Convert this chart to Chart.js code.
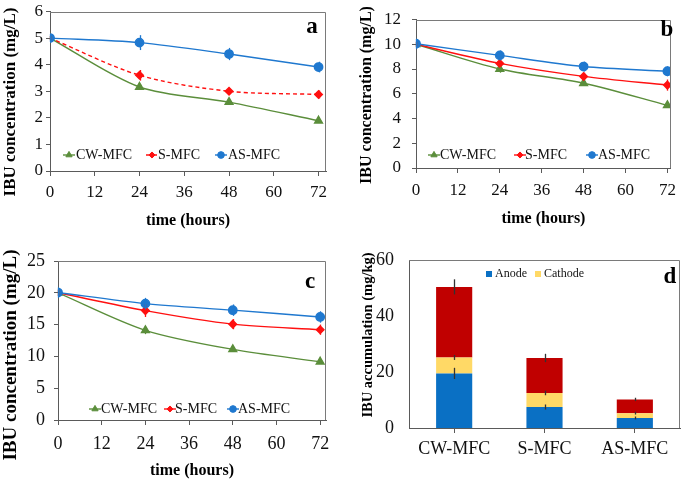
<!DOCTYPE html>
<html><head><meta charset="utf-8">
<script src="https://cdn.jsdelivr.net/npm/chart.js@4/dist/chart.umd.min.js"></script>
<style>
html,body{margin:0;padding:0;background:#fff;}
#wrap{position:relative;width:685px;height:480px;overflow:hidden;background:#fff;}
.p{position:absolute;}
canvas{display:block;}
</style></head><body>
<div id="wrap">
<div class="p" style="left:0px;top:0px"><canvas id="ca" width="340" height="240"></canvas></div>
<div class="p" style="left:340px;top:0px"><canvas id="cb" width="345" height="240"></canvas></div>
<div class="p" style="left:0px;top:240px"><canvas id="cc" width="340" height="240"></canvas></div>
<div class="p" style="left:340px;top:240px"><canvas id="cd" width="345" height="240"></canvas></div>
</div>
<script>
// ---------------- data ----------------
const hours = [0, 24, 48, 72];
const xTicks = [0, 12, 24, 36, 48, 60, 72];
const seriesNames = ['CW-MFC', 'S-MFC', 'AS-MFC'];

const aCW = [5.0, 3.16, 2.59, 1.89];
const aS  = [5.0, 3.60, 3.00, 2.88];
const aAS = [5.0, 4.83, 4.40, 3.91];
const aCWErr = [0.08, 0.10, 0.08, 0.06];
const aSErr  = [0.08, 0.20, 0.13, 0.15];
const aASErr = [0.15, 0.28, 0.23, 0.20];

const bCW = [10.0, 8.0, 6.85, 5.06];
const bS  = [10.0, 8.45, 7.40, 6.70];
const bAS = [10.04, 9.10, 8.20, 7.82];
const bCWErr = [0.2, 0.3, 0.2, 0.15];
const bSErr  = [0.2, 0.3, 0.3, 0.45];
const bASErr = [0.4, 0.4, 0.4, 0.4];

const cCW = [20.0, 14.1, 11.1, 9.16];
const cS  = [20.0, 17.2, 15.07, 14.2];
const cAS = [20.04, 18.3, 17.27, 16.2];
const cCWErr = [0.5, 0.6, 0.4, 0.3];
const cSErr  = [0.5, 1.0, 0.8, 0.8];
const cASErr = [0.8, 0.9, 0.9, 0.9];

const reactors = ['CW-MFC', 'S-MFC', 'AS-MFC'];
const anode   = [19.5, 7.5, 3.6];
const cathode = [5.7, 5.0, 1.7];
const remainder = [25.2, 12.5, 4.9];
const anodeErr   = [2.0, 0.9, 0.5];
const cathodeErr = [0.9, 0.8, 0.5];
const totalErr   = [2.7, 1.5, 0.6];

const concTitle = 'IBU concentration (mg/L)';
const accTitle = 'IBU accumulation (mg/kg)';
const timeTitle = 'time (hours)';

// ---------------- styles ----------------
const SERIF = "'Liberation Serif', 'Times New Roman', serif";
const GREEN = '#5B8E3B';
const RED = '#FF1010';
const BLUE = '#1F78CF';
const AXIS = '#5a5a5a';
const BOX = '#7a7a7a';

// ---------------- plugins ----------------
const errorBars = {
  id: 'errorBars',
  afterDatasetsDraw(chart) {
    const ctx = chart.ctx, ys = chart.scales.y;
    chart.data.datasets.forEach((d, i) => {
      if (!d.errors) return;
      const meta = chart.getDatasetMeta(i);
      ctx.save();
      ctx.strokeStyle = d.errorColor || d.borderColor;
      ctx.lineWidth = 1.3;
      meta.data.forEach((el, j) => {
        const e = d.errors[j];
        const half = Math.abs(ys.getPixelForValue(0) - ys.getPixelForValue(e));
        const x = Math.round(el.x) + 0.5;
        ctx.beginPath();
        ctx.moveTo(x, el.y - half);
        ctx.lineTo(x, el.y + half);
        ctx.stroke();
      });
      ctx.restore();
    });
  }
};

const frame = {
  id: 'frame',
  afterDraw(chart, args, opts) {
    const {ctx, chartArea: a} = chart;
    ctx.save();
    ctx.strokeStyle = opts.color || BOX;
    ctx.lineWidth = 1;
    const t = Math.round(a.top) + 0.5, r = Math.round(a.right) - 0.5;
    ctx.beginPath();
    ctx.moveTo(a.left, t); ctx.lineTo(r, t); ctx.lineTo(r, a.bottom);
    ctx.stroke();
    ctx.fillStyle = '#000';
    ctx.textAlign = 'center';
    ctx.textBaseline = 'middle';
    if (opts.letter) {
      ctx.font = 'bold ' + opts.letterSize + 'px ' + SERIF;
      ctx.fillText(opts.letter, opts.lx, opts.ly);
    }
    if (opts.ytitle) {
      ctx.save();
      ctx.translate(opts.tx, opts.ty);
      ctx.rotate(-Math.PI / 2);
      ctx.font = 'bold ' + opts.tsize + 'px ' + SERIF;
      ctx.fillText(opts.ytitle, 0, 0);
      ctx.restore();
    }
    ctx.restore();
  }
};

const insideLegend = {
  id: 'insideLegend',
  afterDraw(chart, args, opts) {
    if (!opts.items) return;
    const ctx = chart.ctx;
    ctx.save();
    ctx.font = opts.size + 'px ' + SERIF;
    ctx.textBaseline = 'middle';
    ctx.textAlign = 'left';
    opts.items.forEach((it) => {
      const ds = chart.data.datasets[it.ds];
      const y = opts.y;
      if (opts.kind === 'line') {
        ctx.strokeStyle = ds.borderColor;
        ctx.lineWidth = ds.borderWidth;
        ctx.setLineDash(ds.borderDash || []);
        ctx.beginPath();
        ctx.moveTo(it.mx - opts.half, y); ctx.lineTo(it.mx + opts.half, y);
        ctx.stroke();
        ctx.setLineDash([]);
        ctx.fillStyle = ds.backgroundColor;
        ctx.strokeStyle = ds.borderColor;
        ctx.lineWidth = 1;
        Chart.helpers.drawPoint(ctx, {pointStyle: ds.pointStyle, radius: ds.pointRadius * 0.8, borderWidth: 1, rotation: 0}, it.mx, y);
      } else {
        ctx.fillStyle = ds.backgroundColor;
        ctx.fillRect(it.mx - opts.sq / 2, y - opts.sq / 2, opts.sq, opts.sq);
      }
      ctx.fillStyle = '#111';
      ctx.fillText(ds.label, it.tx, y);
    });
    ctx.restore();
  }
};

Chart.register(errorBars, frame, insideLegend);

function pts(arr) { return arr.map((v, i) => ({x: hours[i], y: v})); }

function lineChart(id, c) {
  const datasets = [
    {label: seriesNames[0], data: pts(c.cw), errors: c.cwErr, borderColor: GREEN, backgroundColor: GREEN,
     pointStyle: 'triangle', pointRadius: 4.5, borderWidth: 1.4, order: 2},
    {label: seriesNames[1], data: pts(c.s), errors: c.sErr, borderColor: RED, backgroundColor: RED,
     pointStyle: 'rectRot', pointRadius: 3.8, borderWidth: 1.4, borderDash: c.sDash || [], order: 1},
    {label: seriesNames[2], data: pts(c.as), errors: c.asErr, borderColor: BLUE, backgroundColor: BLUE,
     pointStyle: 'circle', pointRadius: 4.2, borderWidth: 1.4, order: 0}
  ];
  return new Chart(document.getElementById(id), {
    type: 'line',
    data: {datasets},
    options: {
      responsive: false, animation: false, devicePixelRatio: 1,
      layout: {padding: {top: c.top, right: c.right, left: 0, bottom: 0}},
      elements: {line: {tension: 0.3}, point: {borderWidth: 1}},
      scales: {
        x: {
          type: 'linear', min: 0, max: c.xmax,
          afterBuildTicks(s) { s.ticks = xTicks.map(v => ({value: v})); },
          afterFit(s) { s.height = c.xh; },
          grid: {display: true, drawOnChartArea: false, tickLength: 5, color: AXIS},
          border: {display: true, color: AXIS, width: 1},
          ticks: {font: {family: SERIF, size: c.tickSize, lineHeight: 1}, color: '#111', padding: c.xpad, maxRotation: 0, autoSkip: false},
          title: {display: true, text: timeTitle, color: '#000', font: {family: SERIF, size: 16, weight: 'bold'}, padding: {top: 0, bottom: c.xtpad}}
        },
        y: {
          min: 0, max: c.ymax,
          afterFit(s) { s.width = c.yw; },
          grid: {display: true, drawOnChartArea: false, tickLength: 4, color: AXIS},
          border: {display: true, color: AXIS, width: 1},
          ticks: {stepSize: c.ystep, font: {family: SERIF, size: c.tickSize, lineHeight: 1}, color: '#111', padding: c.ypad}
        }
      },
      plugins: {
        legend: {display: false}, tooltip: {enabled: false},
        frame: {letter: c.letter, lx: c.lx, ly: c.ly, letterSize: 23, ytitle: concTitle, tx: c.tx, ty: c.ty, tsize: c.tsize},
        insideLegend: {kind: 'line', y: c.legY, size: c.legSize, half: 6, items: c.legItems}
      }
    }
  });
}

lineChart('ca', {
  cw: aCW, s: aS, as: aAS, cwErr: aCWErr, sErr: aSErr, asErr: aASErr, sDash: [4, 3],
  top: 9, right: 14, xmax: 74, xh: 69, yw: 50, ymax: 6, ystep: 1,
  tickSize: 17, xpad: 8, ypad: 3, xtpad: 10,
  tx: 11, ty: 102, tsize: 17,
  letter: 'a', lx: 312, ly: 27,
  legY: 155, legSize: 14,
  legItems: [{ds: 0, mx: 69, tx: 76}, {ds: 1, mx: 152, tx: 158}, {ds: 2, mx: 221, tx: 228}]
});

lineChart('cb', {
  cw: bCW, s: bS, as: bAS, cwErr: bCWErr, sErr: bSErr, asErr: bASErr,
  top: 9, right: 7, xmax: 73, xh: 72, yw: 76, ymax: 12, ystep: 2,
  tickSize: 17, xpad: 9, ypad: 11, xtpad: 12,
  tx: 27, ty: 95, tsize: 16,
  letter: 'b', lx: 327, ly: 30,
  legY: 155, legSize: 14,
  legItems: [{ds: 0, mx: 94, tx: 100}, {ds: 1, mx: 180, tx: 185}, {ds: 2, mx: 252, tx: 258}]
});

lineChart('cc', {
  cw: cCW, s: cS, as: cAS, cwErr: cCWErr, sErr: cSErr, asErr: cASErr,
  top: 21, right: 14, xmax: 73.6, xh: 60, yw: 58, ymax: 25, ystep: 5,
  tickSize: 18, xpad: 10, ypad: 9, xtpad: 0,
  tx: 11, ty: 115, tsize: 19,
  letter: 'c', lx: 310, ly: 42,
  legY: 169, legSize: 14,
  legItems: [{ds: 0, mx: 95, tx: 101}, {ds: 1, mx: 170, tx: 175}, {ds: 2, mx: 233, tx: 238}]
});

new Chart(document.getElementById('cd'), {
  type: 'bar',
  data: {
    labels: reactors,
    datasets: [
      {label: 'Anode', data: anode, backgroundColor: '#0A70C4', errors: anodeErr, errorColor: '#333'},
      {label: 'Cathode', data: cathode, backgroundColor: '#FFD966', errors: cathodeErr, errorColor: '#333'},
      {label: 'Other', data: remainder, backgroundColor: '#C00000', errors: totalErr, errorColor: '#333'}
    ]
  },
  options: {
    responsive: false, animation: false, devicePixelRatio: 1,
    layout: {padding: {top: 20, right: 5, left: 0, bottom: 0}},
    datasets: {bar: {barPercentage: 0.4, categoryPercentage: 1.0}},
    scales: {
      x: {
        stacked: true,
        afterFit(s) { s.height = 52; },
        grid: {display: true, drawOnChartArea: false, offset: false, tickLength: 5, color: AXIS},
        border: {display: true, color: AXIS, width: 1},
        ticks: {font: {family: SERIF, size: 18}, color: '#111', padding: 5}
      },
      y: {
        stacked: true, min: 0, max: 60,
        afterFit(s) { s.width = 69; },
        grid: {display: false},
        border: {display: true, color: AXIS, width: 1},
        ticks: {stepSize: 20, font: {family: SERIF, size: 18, lineHeight: 1}, color: '#111', padding: 7}
      }
    },
    plugins: {
      legend: {display: false}, tooltip: {enabled: false},
      frame: {letter: 'd', lx: 330, ly: 37, letterSize: 23, ytitle: accTitle, tx: 28, ty: 95, tsize: 14.5},
      insideLegend: {kind: 'box', y: 34, size: 12, sq: 6, items: [{ds: 0, mx: 149, tx: 155}, {ds: 1, mx: 198, tx: 204}]}
    }
  }
});
</script>
</body></html>
